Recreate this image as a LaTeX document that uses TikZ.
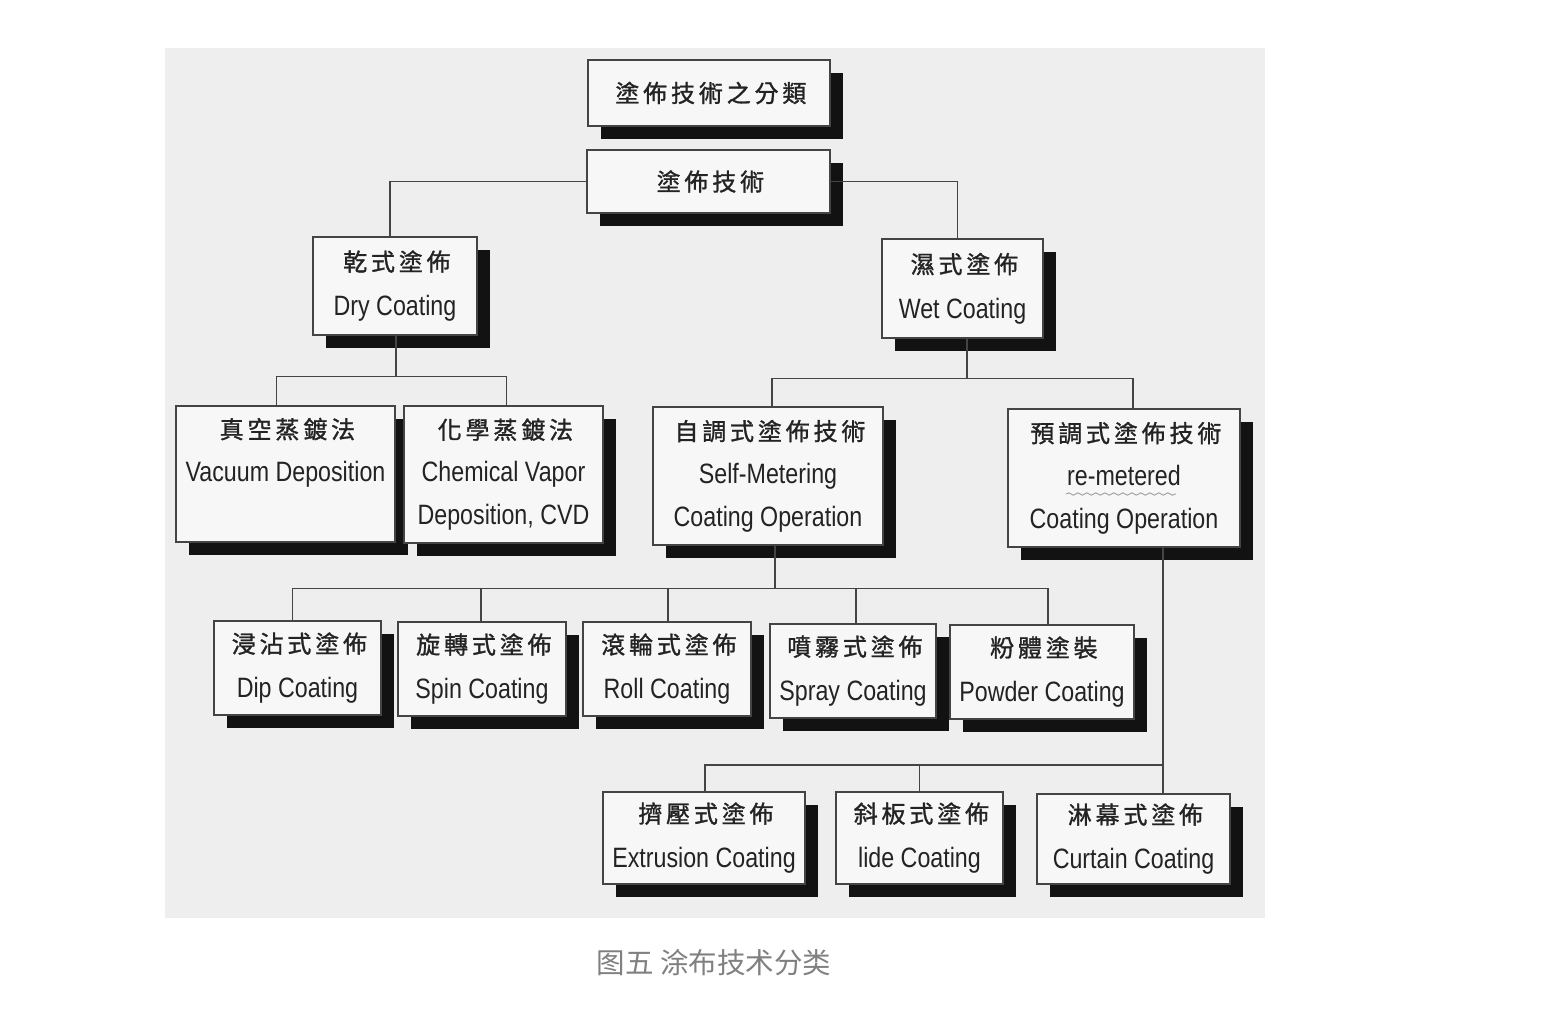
\documentclass[tikz,border=0pt]{standalone}
\usepackage{fontspec}
\setmainfont{Liberation Sans}
\newfontfamily\en[FakeStretch=0.83]{Liberation Sans}
\newfontfamily\cjk[LetterSpace=16, FakeBold=1.2]{Noto Sans CJK TC}
\newfontfamily\cjksc{Noto Sans CJK SC}
\usetikzlibrary{shadows,decorations.pathmorphing}
\definecolor{photo}{RGB}{238,238,238}
\definecolor{boxfill}{RGB}{247,247,247}
\definecolor{ink}{RGB}{35,35,35}
\newcommand\zh[1]{{\cjk\fontsize{24}{45}\selectfont #1\kern-3.8pt}}
\tikzset{
  box/.style={rectangle, draw=ink!85, line width=1.3pt, fill=boxfill, inner sep=0pt,
    align=center, text=ink, font=\en\fontsize{28}{45}\selectfont,
    drop shadow={shadow xshift=13pt, shadow yshift=-13pt, fill=black!93, opacity=1}},
  box3/.style={box, font=\en\fontsize{28}{43}\selectfont},
  link/.style={draw=ink!85, line width=1.4pt},
}
\newcommand\zht[1]{{\cjk\fontsize{24}{43}\selectfont #1\kern-3.8pt}}
\begin{document}
\begin{tikzpicture}[x=1pt,y=-1pt]
\fill[white] (0,0) rectangle (1546,1026);
\fill[photo] (165,48) rectangle (1265,918);
\useasboundingbox (0,0) rectangle (1546,1026);

% level 0/1
\node[box, minimum width=242pt, minimum height=66pt] (t0) at (709,93) {\zh{塗佈技術之分類}};
\node[box, minimum width=243pt, minimum height=63pt] (t1) at (708.5,181.5) {\zh{塗佈技術}};

% level 2
\node[box, minimum width=164pt, minimum height=98pt] (dry) at (395,286) {\zh{乾式塗佈}\\Dry Coating};
\node[box, minimum width=161pt, minimum height=99pt] (wet) at (962.5,288.5) {\zh{濕式塗佈}\\Wet Coating};

% level 3
\node[box3, minimum width=219pt, minimum height=136pt] (vac) at (285.5,474) {\zht{真空蒸鍍法}\\Vacuum Deposition\\\phantom{Dg}};
\node[box3, minimum width=199pt, minimum height=137pt] (cvd) at (503.5,474.5) {\zht{化學蒸鍍法}\\Chemical Vapor\\Deposition, CVD};
\node[box3, minimum width=230pt, minimum height=138pt] (self) at (768,476) {\zht{自調式塗佈技術}\\Self-Metering\\Coating Operation};
\node[box3, minimum width=232pt, minimum height=138pt] (pre) at (1124,478) {\zht{預調式塗佈技術}\\re-metered\\Coating Operation};

% level 4
\node[box, minimum width=167pt, minimum height=94pt] (dip) at (297.5,668) {\zh{浸沾式塗佈}\\Dip Coating};
\node[box, minimum width=168pt, minimum height=94pt] (spin) at (482,669) {\zh{旋轉式塗佈}\\Spin Coating};
\node[box, minimum width=168pt, minimum height=94pt] (roll) at (667,669) {\zh{滾輪式塗佈}\\Roll Coating};
\node[box, minimum width=166pt, minimum height=94pt] (spray) at (853,671) {\zh{噴霧式塗佈}\\Spray Coating};
\node[box, minimum width=184pt, minimum height=94pt] (powder) at (1042,672) {\zh{粉體塗裝}\\Powder Coating};

% level 5
\node[box, minimum width=202pt, minimum height=92pt] (ext) at (704,838) {\zh{擠壓式塗佈}\\Extrusion Coating};
\node[box, minimum width=167pt, minimum height=92pt] (slide) at (919.5,838) {\zh{斜板式塗佈}\\lide Coating};
\node[box, minimum width=193pt, minimum height=90pt] (curt) at (1133.5,839) {\zh{淋幕式塗佈}\\Curtain Coating};

% squiggle under re-metered
\draw[ink!45, line width=0.9pt, decorate, decoration={snake, amplitude=1.2pt, segment length=9pt}] (1066,494) -- (1176,494);

% connectors
\draw[link] (t1.west) -| ([xshift=-5pt]dry.north);
\draw[link] (t1.east) -| ([xshift=-5pt]wet.north);

\draw[link] ([xshift=1pt]dry.south) -- ++(0,41) coordinate (dj);
\draw[link] ([xshift=-9pt]vac.north) |- (dj) -| ([xshift=3pt]cvd.north);

\draw[link] ([xshift=4.5pt]wet.south) -- ++(0,40) coordinate (wj);
\draw[link] ([xshift=4pt]self.north) |- (wj) -| ([xshift=9pt]pre.north);

\draw[link] ([xshift=7pt]self.south) -- ++(0,43) coordinate (sj);
\draw[link] ([xshift=-5pt]dip.north) |- (sj) -| ([xshift=6pt]powder.north);
\draw[link] ([xshift=-1pt]spin.north) -- ([xshift=-1pt]spin.north |- sj);
\draw[link] ([xshift=1pt]roll.north) -- ([xshift=1pt]roll.north |- sj);
\draw[link] ([xshift=3pt]spray.north) -- ([xshift=3pt]spray.north |- sj);

\draw[link] ([xshift=39pt]pre.south) -- ([xshift=29.5pt]curt.north);
\coordinate (pj) at ([xshift=29.5pt]curt.north |- 0,765);
\draw[link] ([xshift=1pt]ext.north) |- (pj);
\draw[link] (slide.north) -- (slide.north |- pj);

% caption
\node[font=\cjksc\fontsize{28.5}{32}\selectfont, text=black!50] (cap) at (714,963) {图五 涂布技术分类};
\end{tikzpicture}
\end{document}
